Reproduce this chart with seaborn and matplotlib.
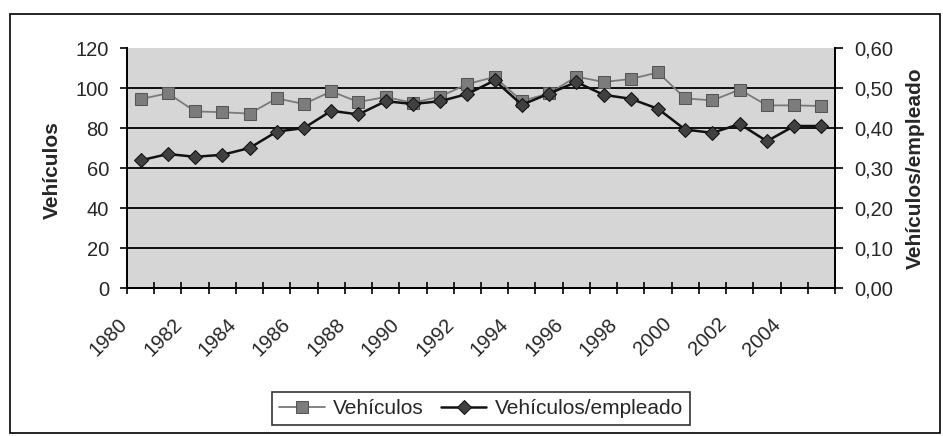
import numpy as np
import pandas as pd
import seaborn as sns
import matplotlib.pyplot as plt
from matplotlib.patches import Rectangle
from matplotlib.ticker import FuncFormatter

anios = list(range(1980, 2006))
vehiculos = [94.4, 97.4, 88.3, 87.9, 87.2, 94.8, 92.0, 98.3, 93.0, 95.5, 92.6, 95.7, 102.0,
             105.5, 93.5, 97.3, 105.7, 103.0, 104.5, 107.8, 94.8, 93.8, 99.2, 91.3, 91.3, 91.0]
veh_empleado = [0.319, 0.335, 0.328, 0.333, 0.350, 0.391, 0.400, 0.443, 0.434, 0.467, 0.460, 0.467, 0.485,
                0.519, 0.458, 0.486, 0.515, 0.483, 0.473, 0.448, 0.396, 0.388, 0.410, 0.367, 0.405, 0.405]
etiquetas = [str(a) for a in anios[::2]]

sns.set_style('white')
plt.rcParams['font.family'] = ['Liberation Sans', 'DejaVu Sans']

df = pd.DataFrame({'pos': np.arange(len(anios)),
                   'Vehículos': vehiculos,
                   'Vehículos/empleado': veh_empleado})

fig = plt.figure(figsize=(9.43, 4.36), dpi=100)
ax = fig.add_axes([127 / 943, 1 - 288 / 436, (835 - 127) / 943, 240 / 436])
ax2 = ax.twinx()

sns.lineplot(data=df, x='pos', y='Vehículos', ax=ax, color='#7a7a7a', linewidth=1.3,
             marker='s', markersize=8, markerfacecolor='#7c7c7c', markeredgecolor='#555555',
             label='Vehículos', legend=False)
sns.lineplot(data=df, x='pos', y='Vehículos/empleado', ax=ax2, color='#111111', linewidth=1.8,
             marker='D', markersize=7, markerfacecolor='#404040', markeredgecolor='#111111',
             label='Vehículos/empleado', legend=False)

# fondo gris y rejilla negra
ax.set_facecolor('#d6d6d6')
ax.set_ylim(0, 120)
ax.set_yticks(np.arange(0, 121, 20))
ax.yaxis.grid(True, color='black', linewidth=1.3)
ax.xaxis.grid(False)
ax.get_ygridlines()[-1].set_visible(False)
ax.get_ygridlines()[0].set_visible(False)

ax2.set_ylim(0, 0.6)
ax2.set_yticks(np.arange(0, 0.61, 0.1))
ax2.yaxis.set_major_formatter(FuncFormatter(lambda v, p: f'{v:.2f}'.replace('.', ',')))
ax2.grid(False)

# eje x por categorías
ax.set_xlim(-0.5, len(anios) - 0.5)
ax.set_xticks(np.arange(0, len(anios), 2) - 0.35)
ax.set_xticklabels(etiquetas)
ax.set_xticks(np.arange(-0.5, len(anios), 1), minor=True)
ax.tick_params(axis='x', which='major', length=0, pad=19, labelsize=14.5, labelrotation=45)
ax.tick_params(axis='x', which='minor', length=8, direction='inout', width=1.2, color='black', bottom=True)
for lab in ax.get_xticklabels():
    lab.set_ha('right')

ax.tick_params(axis='y', length=5, width=1.2, direction='out', pad=8, labelsize=14.5, left=True, color='black')
ax2.tick_params(axis='y', length=6, width=1.2, direction='out', pad=8, labelsize=14.5, right=True, color='black')

ax.set_xlabel('')
ax.set_ylabel('')
ax2.set_ylabel('')

for a in (ax, ax2):
    a.spines['top'].set_visible(False)
    for s in ('left', 'right', 'bottom'):
        a.spines[s].set_color('black')
        a.spines[s].set_linewidth(1.3)

fig.text(52 / 943, 1 - 170 / 436, 'Vehículos', rotation=90, ha='center', va='center',
         fontweight='bold', fontsize=15)
fig.text(915 / 943, 1 - 168 / 436, 'Vehículos/empleado', rotation=90, ha='center', va='center',
         fontweight='bold', fontsize=15)

handles = ax.get_lines()[:1] + ax2.get_lines()[:1]
leg = fig.legend(handles, ['Vehículos', 'Vehículos/empleado'], loc='center',
                 bbox_to_anchor=(481 / 943, 1 - 408.5 / 436), ncol=2, frameon=True,
                 fancybox=False, edgecolor='black', fontsize=15, handlelength=2.2,
                 columnspacing=0.8, handletextpad=0.4, borderpad=0.35)
leg.get_frame().set_linewidth(1.2)

# marco exterior del gráfico
fig.add_artist(Rectangle((10 / 943, 3 / 436), 930 / 943, 419 / 436, transform=fig.transFigure,
                         fill=False, edgecolor='black', linewidth=1.2))

fig.savefig('out.png', dpi=100)
